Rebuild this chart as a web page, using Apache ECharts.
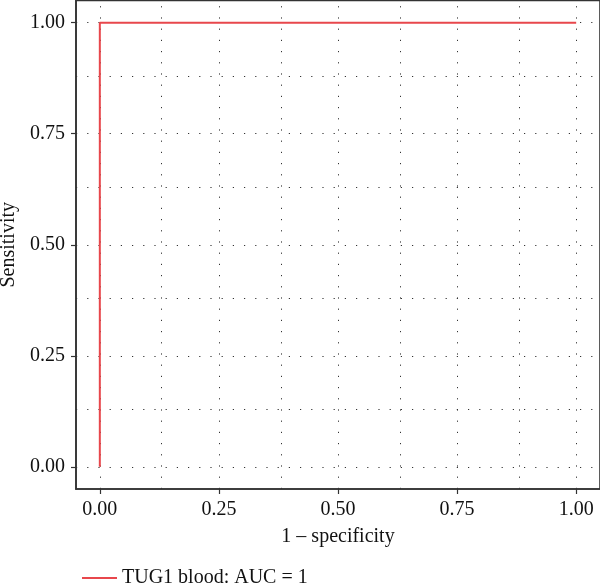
<!DOCTYPE html>
<html>
<head>
<meta charset="utf-8">
<script src="https://cdn.jsdelivr.net/npm/echarts@6/dist/echarts.min.js"></script>
<style>
  html, body { margin: 0; padding: 0; background: #fff; }
  #chart { width: 600px; height: 584px; }
</style>
</head>
<body>
<div id="chart"></div>
<script>
// ROC curve points
const fpr = [0, 0, 1];
const tpr = [0, 1, 1];
const seriesName = 'TUG1 blood: AUC = 1';

// tick labels and gridline positions
const tickValues = [0, 0.25, 0.5, 0.75, 1];
const gridValues = [0, 0.125, 0.25, 0.375, 0.5, 0.625, 0.75, 0.875, 1];

const font = '"Liberation Serif", "DejaVu Serif", serif';
const red = '#e8474c';

const chart = echarts.init(document.getElementById('chart'));

const gridLineStyle = {
    color: '#333',
    width: 1,
    type: [1.2, 10],
};

const option = {
    animation: false,
    grid: {
        left: 76,
        right: 0,
        top: 0.5,
        bottom: 95,
        show: true,
        borderColor: '#333',
        borderWidth: 1.6,
        outerBoundsMode: 'none',
        containLabel: false,
    },
    legend: {
        data: [seriesName],
        left: 77,
        top: 563,
        icon: 'rect',
        itemWidth: 35,
        itemHeight: 2,
        itemGap: 10,
        textStyle: { fontFamily: font, fontSize: 20, color: '#111' },
    },
    xAxis: {
        type: 'value',
        min: -0.05,
        max: 1.05,
        name: '1 – specificity',
        nameLocation: 'middle',
        nameGap: 38,
        nameTextStyle: { fontFamily: font, fontSize: 20, color: '#111' },
        axisLine: { show: true, onZero: false, lineStyle: { color: '#333', width: 1.6 } },
        axisTick: { show: true, length: 5, customValues: tickValues, lineStyle: { color: '#333', width: 1.2 } },
        axisLabel: {
            customValues: tickValues,
            margin: 11,
            fontFamily: font,
            fontSize: 20,
            color: '#111',
            formatter: v => v.toFixed(2),
        },
        splitLine: { show: false },
    },
    yAxis: {
        type: 'value',
        min: -0.05,
        max: 1.05,
        name: 'Sensitivity',
        nameLocation: 'middle',
        nameGap: 57,
        nameTextStyle: { fontFamily: font, fontSize: 20, color: '#111' },
        axisLine: { show: true, onZero: false, lineStyle: { color: '#333', width: 1.6 } },
        axisTick: { show: true, length: 5, customValues: tickValues, lineStyle: { color: '#333', width: 1.2 } },
        axisLabel: {
            customValues: tickValues,
            margin: 11,
            fontFamily: font,
            fontSize: 20,
            color: '#111',
            formatter: v => v.toFixed(2),
        },
        splitLine: { show: false },
    },
    series: [
        {
            // dotted gridlines
            type: 'line',
            data: [],
            silent: true,
            z: 1,
            markLine: {
                silent: true,
                symbol: 'none',
                label: { show: false },
                lineStyle: gridLineStyle,
                data: gridValues.map(v => ({ xAxis: v }))
                    .concat(gridValues.map(v => ({ yAxis: v }))),
            },
        },
        {
            name: seriesName,
            type: 'line',
            data: fpr.map((x, i) => [x, tpr[i]]),
            showSymbol: false,
            symbol: 'none',
            z: 5,
            lineStyle: { color: red, width: 2 },
            itemStyle: { color: red },
        },
    ],
};

chart.setOption(option);
</script>
</body>
</html>
